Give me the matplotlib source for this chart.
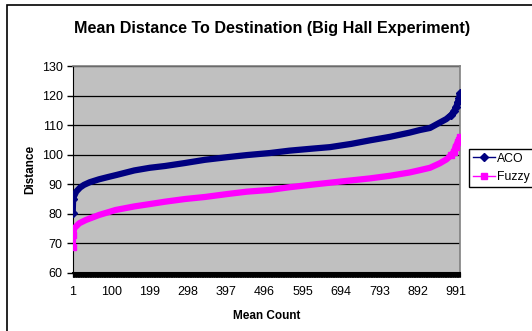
import matplotlib
matplotlib.use("Agg")
import matplotlib.pyplot as plt
from matplotlib.patches import Rectangle
from matplotlib.ticker import FixedLocator
import numpy as np

plt.rcParams['font.family'] = ['Liberation Sans', 'DejaVu Sans']

# values (category index, mean distance)
aco_x = [1, 2, 5, 10, 20, 30, 45, 69, 90, 115, 160, 200, 239, 290, 342, 400, 450,
         510, 560, 620, 665, 720, 768, 820, 870, 897, 923, 948, 965, 978, 985, 991,
         995, 998, 1000]
aco_y = [80.3, 84.8, 86.0, 87.4, 88.8, 89.7, 90.6, 91.6, 92.3, 93.1, 94.6, 95.5, 96.1,
         97.1, 98.2, 99.1, 99.8, 100.5, 101.3, 102.0, 102.5, 103.6, 104.8, 106.0,
         107.4, 108.3, 109.0, 110.8, 112.0, 113.4, 114.6, 116.2, 117.8, 119.0, 120.7]

fuzzy_x = [1, 2, 5, 18, 35, 69, 112, 160, 200, 239, 290, 342, 400, 450, 510, 560,
           620, 690, 768, 820, 870, 897, 923, 948, 965, 978, 985, 989, 995, 998, 1000]
fuzzy_y = [68.6, 72.7, 75.0, 76.7, 77.8, 79.5, 81.2, 82.4, 83.2, 84.0, 84.9, 85.6,
           86.6, 87.4, 88.0, 88.9, 89.8, 90.8, 91.9, 92.8, 93.9, 94.7, 95.5, 97.0,
           98.3, 99.8, 101.0, 102.6, 104.3, 104.8, 105.8]

n_points = 1000
x_labels = [1, 100, 199, 298, 397, 496, 595, 694, 793, 892, 991]
y_ticks = [60, 70, 80, 90, 100, 110, 120, 130]

fig = plt.figure(figsize=(5.32, 3.31), dpi=100)
ax = fig.add_axes([0.1363, 0.1767, 0.7284, 0.6239])
ax.set_facecolor('#C0C0C0')

ax.plot(aco_x, aco_y, color='#000080', lw=4.5, solid_capstyle='butt', zorder=3)
ax.plot(aco_x[:2], aco_y[:2], color='#000080', lw=1.5, marker='D', ms=4, zorder=4)
ax.plot(aco_x[-6:], aco_y[-6:], color='#000080', lw=0, marker='D', ms=4.5, zorder=4)
ax.plot(fuzzy_x, fuzzy_y, color='#FF00FF', lw=4.5, solid_capstyle='butt', zorder=3)
ax.plot(fuzzy_x[:2], fuzzy_y[:2], color='#FF00FF', lw=1.5, marker='s', ms=4, zorder=4)
ax.plot(fuzzy_x[-6:], fuzzy_y[-6:], color='#FF00FF', lw=0, marker='s', ms=4.5, zorder=4)

ax.set_xlim(0.5, n_points + 0.5)
ax.set_ylim(60, 130)
ax.set_yticks(y_ticks)
ax.yaxis.grid(True, color='black', lw=0.9)
ax.set_axisbelow(True)

ax.set_xticks(x_labels)
ax.set_xticklabels([str(v) for v in x_labels], fontsize=9)
ax.tick_params(axis='x', length=0, pad=10)
ax.xaxis.set_minor_locator(FixedLocator(np.arange(0.5, n_points + 1, 1)))
ax.tick_params(axis='x', which='minor', length=3, width=0.8, color='black', direction='out')
ax.tick_params(axis='y', length=4, width=1, direction='out', labelsize=9, pad=3)

for s in ['top', 'right']:
    ax.spines[s].set_color('#808080')
    ax.spines[s].set_linewidth(1.2)
ax.spines['left'].set_color('black')
ax.spines['bottom'].set_color('black')
ax.spines['bottom'].set_linewidth(1.5)

ax.set_xlabel('Mean Count', fontsize=8.5, fontweight='bold', labelpad=8)
ax.set_ylabel('Distance', fontsize=8.5, fontweight='bold', labelpad=4)

fig.text(0.512, 0.915, 'Mean Distance To Destination (Big Hall Experiment)',
         ha='center', va='center', fontsize=11.6, fontweight='bold')

h1, = ax.plot([], [], color='#000080', lw=1, marker='D', ms=4)
h2, = ax.plot([], [], color='#FF00FF', lw=1, marker='s', ms=4)
leg = fig.legend([h1, h2], ['ACO', 'Fuzzy'], loc='upper left',
                 bbox_to_anchor=(469 / 532, 1 - 149 / 331), fontsize=8.8,
                 frameon=True, fancybox=False, edgecolor='black', framealpha=1,
                 borderpad=0.3, handlelength=1.8, handletextpad=0.15,
                 labelspacing=0.55, borderaxespad=0)
leg.get_frame().set_linewidth(1)

fig.patches.append(Rectangle((7 / 532, -0.1), 1.2, 1.1 - 5 / 331, transform=fig.transFigure,
                             fill=False, edgecolor='black', lw=1.2))

fig.savefig('out.png', dpi=100)
